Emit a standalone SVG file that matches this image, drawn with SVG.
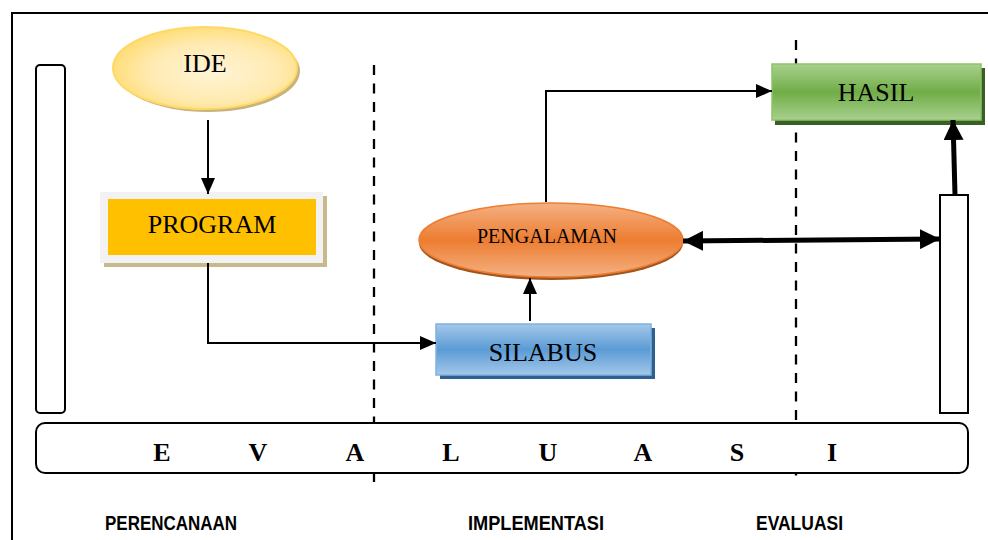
<svg xmlns="http://www.w3.org/2000/svg" width="988" height="540" viewBox="0 0 988 540">
<style>
.serif{font-family:"Liberation Serif","Times New Roman",serif;fill:#000}
.node{font-size:26px;text-anchor:middle}
.ev{font-size:26px;font-weight:bold;text-anchor:middle}
.lbl{font-family:"Liberation Sans",Arial,sans-serif;font-weight:bold;font-size:20px;fill:#000}
.thin{stroke:#000;stroke-width:2;fill:none}
.thick{stroke:#000;stroke-width:5;fill:none}
.dash{stroke:#000;stroke-width:2.3;stroke-dasharray:10 8.5;fill:none}
.box{fill:#fff;stroke:#000;stroke-width:2}
</style>
<defs>
<marker id="ah" markerUnits="userSpaceOnUse" markerWidth="16" markerHeight="14" refX="16" refY="7" orient="auto-start-reverse"><path d="M0,0 L16,7 L0,14 z" fill="#000"/></marker>
<marker id="ahb" markerUnits="userSpaceOnUse" markerWidth="20" markerHeight="20" refX="20" refY="10" orient="auto-start-reverse"><path d="M0,0 L20,10 L0,20 z" fill="#000"/></marker>
<radialGradient id="gIde" cx="0.55" cy="0.55" r="0.6"><stop offset="0" stop-color="#fff4d6"/><stop offset="0.6" stop-color="#ffeab0"/><stop offset="1" stop-color="#ffdb6e"/></radialGradient>
<linearGradient id="gOr" x1="0" y1="0" x2="0" y2="1"><stop offset="0" stop-color="#f4b183"/><stop offset="0.5" stop-color="#ed7d31"/><stop offset="1" stop-color="#f4b183"/></linearGradient>
<linearGradient id="gBl" x1="0" y1="0" x2="0" y2="1"><stop offset="0" stop-color="#a4c8ea"/><stop offset="0.5" stop-color="#5b9bd5"/><stop offset="1" stop-color="#a4c8ea"/></linearGradient>
<linearGradient id="gGr" x1="0" y1="0" x2="0" y2="1"><stop offset="0" stop-color="#a9d18e"/><stop offset="0.5" stop-color="#70ad47"/><stop offset="1" stop-color="#a9d18e"/></linearGradient>
</defs>

<g id="frame">
<path d="M12,540 L12,13 L988,13" fill="none" stroke="#000" stroke-width="2"/>
</g>

<g id="dividers">
<line class="dash" x1="374" y1="65" x2="374" y2="488"/>
<line class="dash" x1="796" y1="40" x2="796" y2="481"/>
</g>

<g id="left-bar"><rect class="box" x="36" y="65" width="29" height="348" rx="4"/></g>
<g id="right-bar"><rect class="box" x="940" y="195" width="28" height="218"/></g>

<g id="evaluasi">
<rect class="box" x="36" y="423" width="932" height="50" rx="9"/>
<text class="serif ev" y="461"><tspan x="162">E</tspan><tspan x="258">V</tspan><tspan x="355">A</tspan><tspan x="451">L</tspan><tspan x="548">U</tspan><tspan x="643">A</tspan><tspan x="737">S</tspan><tspan x="832">I</tspan></text>
</g>

<g id="ide">
<ellipse cx="208" cy="71" rx="92" ry="41" fill="#c8b27e"/>
<ellipse cx="205" cy="68" rx="92" ry="41" fill="url(#gIde)" stroke="#ffd966" stroke-width="2"/>
<text class="serif node" x="205" y="72">IDE</text>
</g>

<g id="program">
<rect x="104" y="196" width="223" height="71" fill="#c8b88e"/>
<rect x="100" y="192" width="223" height="71" fill="#f2f2f2"/>
<rect x="108" y="199" width="208" height="56" fill="#ffc000"/>
<text class="serif node" x="212" y="233">PROGRAM</text>
</g>

<g id="pengalaman">
<ellipse cx="551" cy="243" rx="132" ry="37" fill="#a0541e"/>
<ellipse cx="551" cy="240" rx="132" ry="37" fill="url(#gOr)" stroke="#ed7d31" stroke-width="1.5"/>
<text class="serif" x="547" y="243" font-size="20" text-anchor="middle">PENGALAMAN</text>
</g>

<g id="silabus">
<rect x="440" y="328" width="215" height="51" fill="#2f5f8e"/>
<rect x="436" y="324" width="215" height="51" fill="url(#gBl)" stroke="#7fb2e0" stroke-width="1.5"/>
<text class="serif node" x="543" y="361">SILABUS</text>
</g>

<g id="hasil">
<rect x="775" y="68" width="210" height="57" fill="#3b5e25"/>
<rect x="772" y="64" width="209" height="56" fill="url(#gGr)" stroke="#8cc36a" stroke-width="1.5"/>
<text class="serif node" x="876" y="101">HASIL</text>
</g>

<g id="connectors">
<line class="thin" x1="208" y1="120" x2="208" y2="194" marker-end="url(#ah)"/>
<path class="thin" d="M208,263 L208,343 L436,343" marker-end="url(#ah)"/>
<line class="thin" x1="530" y1="321" x2="530" y2="278" marker-end="url(#ah)"/>
<path class="thin" d="M546,202 L546,91 L772,91" marker-end="url(#ah)"/>
<line class="thick" x1="683" y1="241" x2="940" y2="239" marker-start="url(#ahb)" marker-end="url(#ahb)"/>
<line class="thick" x1="955" y1="195" x2="953" y2="120" marker-end="url(#ahb)"/>
</g>

<g id="phase-labels">
<text class="lbl" x="105" y="530" textLength="132" lengthAdjust="spacingAndGlyphs">PERENCANAAN</text>
<text class="lbl" x="468" y="530" textLength="136" lengthAdjust="spacingAndGlyphs">IMPLEMENTASI</text>
<text class="lbl" x="756" y="530" textLength="87" lengthAdjust="spacingAndGlyphs">EVALUASI</text>
</g>
</svg>
